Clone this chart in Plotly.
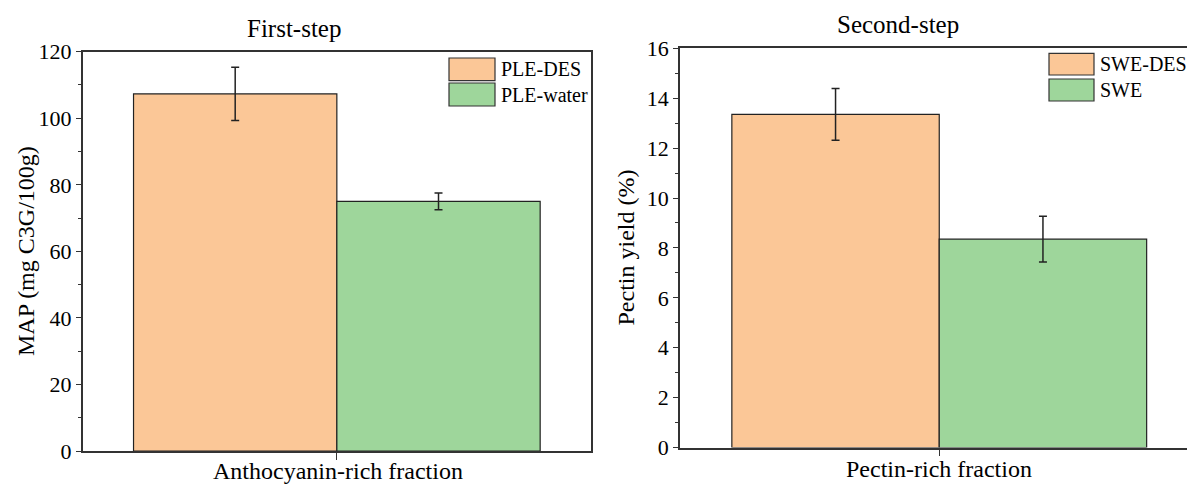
import plotly.graph_objects as go

W, H = 1187, 484

# ---- data ----
cat_left = ["Anthocyanin-rich fraction"]
cat_right = ["Pectin-rich fraction"]
left_names = ["PLE-DES", "PLE-water"]
left_vals = [107.3, 75.0]
left_err = [8.0, 2.5]
right_names = ["SWE-DES", "SWE"]
right_vals = [13.35, 8.35]
right_err = [1.04, 0.92]
colors = ["#FBC797", "#9ED69B"]

FONT = "Liberation Serif, Times New Roman, serif"

def px_x(p):
    return p / W

def px_y(p):
    return 1 - p / H

fig = go.Figure()

for i in range(2):
    fig.add_trace(go.Bar(
        x=cat_left, y=[left_vals[i]], name=left_names[i],
        marker=dict(color=colors[i], line=dict(color="#222", width=1.2)),
        error_y=dict(type="data", array=[left_err[i]], color="#222", thickness=1.5, width=4),
        offsetgroup=str(i), xaxis="x", yaxis="y", showlegend=False))
for i in range(2):
    fig.add_trace(go.Bar(
        x=cat_right, y=[right_vals[i]], name=right_names[i],
        marker=dict(color=colors[i], line=dict(color="#222", width=1.2)),
        error_y=dict(type="data", array=[right_err[i]], color="#222", thickness=1.5, width=4),
        offsetgroup=str(i), xaxis="x2", yaxis="y2", showlegend=False))

tickfont = dict(family=FONT, size=22, color="black")
axcommon = dict(showgrid=False, zeroline=False, showline=True, linecolor="#333",
                linewidth=1.5, ticks="outside", ticklen=5, tickwidth=1.2,
                tickcolor="#333", tickfont=tickfont, automargin=False)

# right x range extends beyond window
right_px_per_unit = 518.5
right_range_end = -0.5 + (W - 680) / right_px_per_unit

fig.update_layout(
    template="none",
    width=W, height=H,
    margin=dict(l=0, r=0, t=0, b=0, pad=0),
    paper_bgcolor="white", plot_bgcolor="white",
    barmode="group", bargap=0.2, bargroupgap=0,
    showlegend=False,
    xaxis=dict(domain=[px_x(82.7), px_x(591)], range=[-0.5, 0.5], mirror=True,
               anchor="y", showticklabels=False, **{**axcommon, "ticklen": 7}),
    yaxis=dict(domain=[px_y(451), px_y(51.7)], range=[0, 120], dtick=20, mirror=True,
               anchor="x", minor=dict(ticks="outside", ticklen=3, dtick=10, tickcolor="#333"),
               **axcommon),
    xaxis2=dict(domain=[px_x(680), 1.0], range=[-0.5, right_range_end], mirror=True,
                anchor="y2", showticklabels=False, **{**axcommon, "ticklen": 7}),
    yaxis2=dict(domain=[px_y(447.5), px_y(48.3)], range=[0, 16], dtick=2, mirror=False,
                anchor="x2", minor=dict(ticks="outside", ticklen=3, dtick=1, tickcolor="#333"),
                **axcommon),
)

annots = [
    dict(text="First-step", x=px_x(294), y=px_y(28), size=25),
    dict(text="Second-step", x=px_x(898), y=px_y(24), size=25),
    dict(text=cat_left[0], x=px_x(338), y=px_y(471), size=24),
    dict(text=cat_right[0], x=px_x(939), y=px_y(469), size=24),
]
for a in annots:
    fig.add_annotation(text=a["text"], x=a["x"], y=a["y"], xref="paper", yref="paper",
                       showarrow=False, xanchor="center", yanchor="middle",
                       font=dict(family=FONT, size=a["size"], color="black"))

fig.add_annotation(text="MAP (mg C3G/100g)", x=px_x(26), y=px_y(251), xref="paper", yref="paper",
                   showarrow=False, textangle=-90, xanchor="center", yanchor="middle",
                   font=dict(family=FONT, size=24, color="black"))
fig.add_annotation(text="Pectin yield (%)", x=px_x(625), y=px_y(247.5), xref="paper", yref="paper",
                   showarrow=False, textangle=-90, xanchor="center", yanchor="middle",
                   font=dict(family=FONT, size=24, color="black"))

# legends drawn as swatches + text
legends = [
    (left_names, 449, 495, [(58, 80.7), (83, 106)], 499),
    (right_names, 1049, 1094, [(53.3, 75), (79, 101)], 1098),
]
for names, x0, x1, ys, tx in legends:
    for i, (y0, y1) in enumerate(ys):
        fig.add_shape(type="rect", xref="paper", yref="paper",
                      x0=px_x(x0), x1=px_x(x1), y0=px_y(y1), y1=px_y(y0),
                      fillcolor=colors[i], line=dict(color="#333", width=1.2))
        fig.add_annotation(text=names[i], x=px_x(tx), y=px_y((y0 + y1) / 2), xref="paper",
                           yref="paper", showarrow=False, xanchor="left", yanchor="middle",
                           font=dict(family=FONT, size=20, color="black"))

fig.write_html("out.html")
